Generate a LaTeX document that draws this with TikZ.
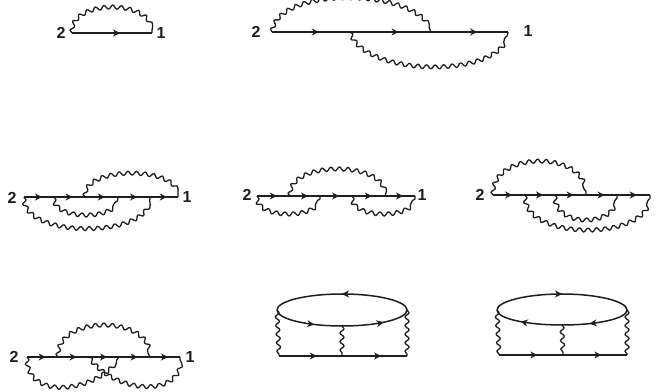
\documentclass[tikz,border=0pt]{standalone}
\usepackage{fontspec}
\setmainfont{Liberation Sans}
\usetikzlibrary{arrows.meta,decorations.markings,decorations.pathmorphing}
\definecolor{inkline}{HTML}{1E1E1E}
\tikzset{
  fermion/.style={line width=1.1pt, draw=inkline, postaction={decorate},
    decoration={markings, mark=at position #1 with {\arrow{Stealth[length=7pt,width=7pt,inset=2.2pt]}}}},
  fermion/.default=0.6,
  photon/.style={line width=1.3pt, draw=inkline, line join=round,
    decorate, decoration={snake, segment length=8.6pt, amplitude=2pt}},
  loopline/.style={line width=1.5pt, draw=inkline},
  endlabel/.style={inner sep=0pt, font=\fontsize{16}{16}\selectfont\bfseries, text=inkline},
}
\begin{document}
\begin{tikzpicture}[x=1pt, y=1pt]
  \useasboundingbox (0,0) rectangle (656,391);
  % Top row, small one on the left.
  \coordinate (a1) at (72,358);
  \coordinate (a2) at (152,358);
  \node[endlabel] (a2lab) at (61,358) {2};
  \node[endlabel] (a1lab) at (161,358) {1};
  \draw[fermion] (a1) -- (a2);
  \draw[photon] (a1) to[out=90, in=90, looseness=1.02] (a2);
  % Top row, big one.
  \coordinate (b1) at (272,359);
  \coordinate (b2) at (350,359);
  \coordinate (b3) at (431,359);
  \coordinate (b4) at (508,359);
  \node[endlabel] (b2lab) at (256,359) {2};
  \node[endlabel] (b1lab) at (528,360) {1};
  \foreach \p/\q in {b1/b2, b2/b3, b3/b4}
    \draw[fermion] (\p) -- (\q);
  \draw[photon] (b1) to[out=80, in=110, looseness=.72] (b3);
  \draw[photon] (b2) to[out=-70, in=-100, looseness=.74] (b4);
  % Middle row, left.
  \coordinate (c1) at (24,194);
  \coordinate (c2) at (54,194);
  \coordinate (c3) at (85,194);
  \coordinate (c4) at (118,194);
  \coordinate (c5) at (150,194);
  \coordinate (c6) at (178,194);
  \node[endlabel] (c2lab) at (12,193) {2};
  \node[endlabel] (c1lab) at (187,194) {1};
  \foreach \p/\q in {c1/c2, c2/c3, c3/c4, c4/c5, c5/c6}
    \draw[fermion] (\p) -- (\q);
  \draw[photon] (c1) to[out=-90, in=-90, looseness=.8] (c5);
  \draw[photon] (c2) to[out=-90, in=-90, looseness=.85] (c4);
  \draw[photon] (c3) to[out=90, in=90, looseness=.8] (c6);
  % Middle row, centre.
  \coordinate (d1) at (257,195);
  \coordinate (d2) at (290,195);
  \coordinate (d3) at (320,195);
  \coordinate (d4) at (352,195);
  \coordinate (d5) at (385,195);
  \coordinate (d6) at (415,195);
  \node[endlabel] (d2lab) at (247,196) {2};
  \node[endlabel] (d1lab) at (422,196) {1};
  \foreach \p/\q in {d1/d2, d2/d3, d3/d4, d4/d5, d5/d6}
    \draw[fermion] (\p) -- (\q);
  \draw[photon] (d2) to[out=90, in=90, looseness=.9] (d5);
  \draw[photon] (d1) to[out=-90, in=-90, looseness=.86] (d3);
  \draw[photon] (d4) to[out=-90, in=-90, looseness=.86] (d6);
  % Middle row, right.
  \coordinate (e1) at (493,196);
  \coordinate (e2) at (525,196);
  \coordinate (e3) at (555,196);
  \coordinate (e4) at (586,196);
  \coordinate (e5) at (617,196);
  \coordinate (e6) at (650,196);
  \node[endlabel] (e2lab) at (480,196) {2};
  \foreach \p/\q in {e1/e2, e2/e3, e3/e4, e4/e5, e5/e6}
    \draw[fermion] (\p) -- (\q);
  \draw[photon] (e1) to[out=90, in=90, looseness=1.17] (e4);
  \draw[photon] (e3) to[out=-90, in=-90, looseness=1.26] (e5);
  \draw[photon] (e2) to[out=-90, in=-90, looseness=.9] (e6);
  % Bottom row, crossed one.
  \coordinate (f1) at (27,34);
  \coordinate (f2) at (58,34);
  \coordinate (f3) at (89,34);
  \coordinate (f4) at (119,34);
  \coordinate (f5) at (150,34);
  \coordinate (f6) at (180,34);
  \node[endlabel] (f2lab) at (14,34) {2};
  \node[endlabel] (f1lab) at (190,34) {1};
  \foreach \p/\q in {f1/f2, f2/f3, f3/f4, f4/f5, f5/f6}
    \draw[fermion] (\p) -- (\q);
  \draw[photon] (f2) to[out=90, in=90, looseness=1.11] (f5);
  \draw[photon] (f1) to[out=-90, in=-125, looseness=1.15] (f4);
  \draw[photon] (f3) to[out=-55, in=-90, looseness=1.15] (f6);
  % Bottom row, loop with arrows going round one way.
  \coordinate (g1) at (277,81);
  \coordinate (g2) at (342,97);
  \coordinate (g3) at (407,81);
  \coordinate (g4) at (342,65);
  \coordinate (g5) at (279,35);
  \coordinate (g6) at (342,35);
  \coordinate (g7) at (407,35);
  \draw[loopline] (g1) .. controls +(0,8.8) and +(-35.9,0) .. (g2)
    .. controls +(35.9,0) and +(0,8.8) .. (g3)
    .. controls +(0,-8.8) and +(35.9,0) .. (g4)
    .. controls +(-35.9,0) and +(0,-8.8) .. (g1);
  \path[fermion=0.5, draw=none]
    (g3) .. controls +(0,8.8) and +(35.9,0) .. (g2) .. controls +(-35.9,0) and +(0,8.8) .. (g1);
  \path[fermion, draw=none] (g1) .. controls +(0,-8.8) and +(-35.9,0) .. (g4);
  \path[fermion, draw=none] (g4) .. controls +(35.9,0) and +(0,-8.8) .. (g3);
  \draw[fermion] (g5) -- (g6);
  \draw[fermion] (g6) -- (g7);
  \draw[photon] (g1) -- (g5);
  \draw[photon] (g4) -- (g6);
  \draw[photon] (g3) -- (g7);
  % Bottom row, same loop the other way round.
  \coordinate (h1) at (497,81);
  \coordinate (h2) at (562,97);
  \coordinate (h3) at (627,81);
  \coordinate (h4) at (562,66);
  \coordinate (h5) at (499,36);
  \coordinate (h6) at (563,36);
  \coordinate (h7) at (627,36);
  \draw[loopline] (h1) .. controls +(0,8.5) and +(-35.9,0) .. (h2)
    .. controls +(35.9,0) and +(0,8.5) .. (h3)
    .. controls +(0,-8.5) and +(35.9,0) .. (h4)
    .. controls +(-35.9,0) and +(0,-8.5) .. (h1);
  \path[fermion=0.5, draw=none]
    (h1) .. controls +(0,8.5) and +(-35.9,0) .. (h2) .. controls +(35.9,0) and +(0,8.5) .. (h3);
  \path[fermion, draw=none] (h3) .. controls +(0,-8.5) and +(35.9,0) .. (h4);
  \path[fermion, draw=none] (h4) .. controls +(-35.9,0) and +(0,-8.5) .. (h1);
  \draw[fermion] (h5) -- (h6);
  \draw[fermion] (h6) -- (h7);
  \draw[photon] (h1) -- (h5);
  \draw[photon] (h4) -- (h6);
  \draw[photon] (h3) -- (h7);
\end{tikzpicture}
\end{document}
